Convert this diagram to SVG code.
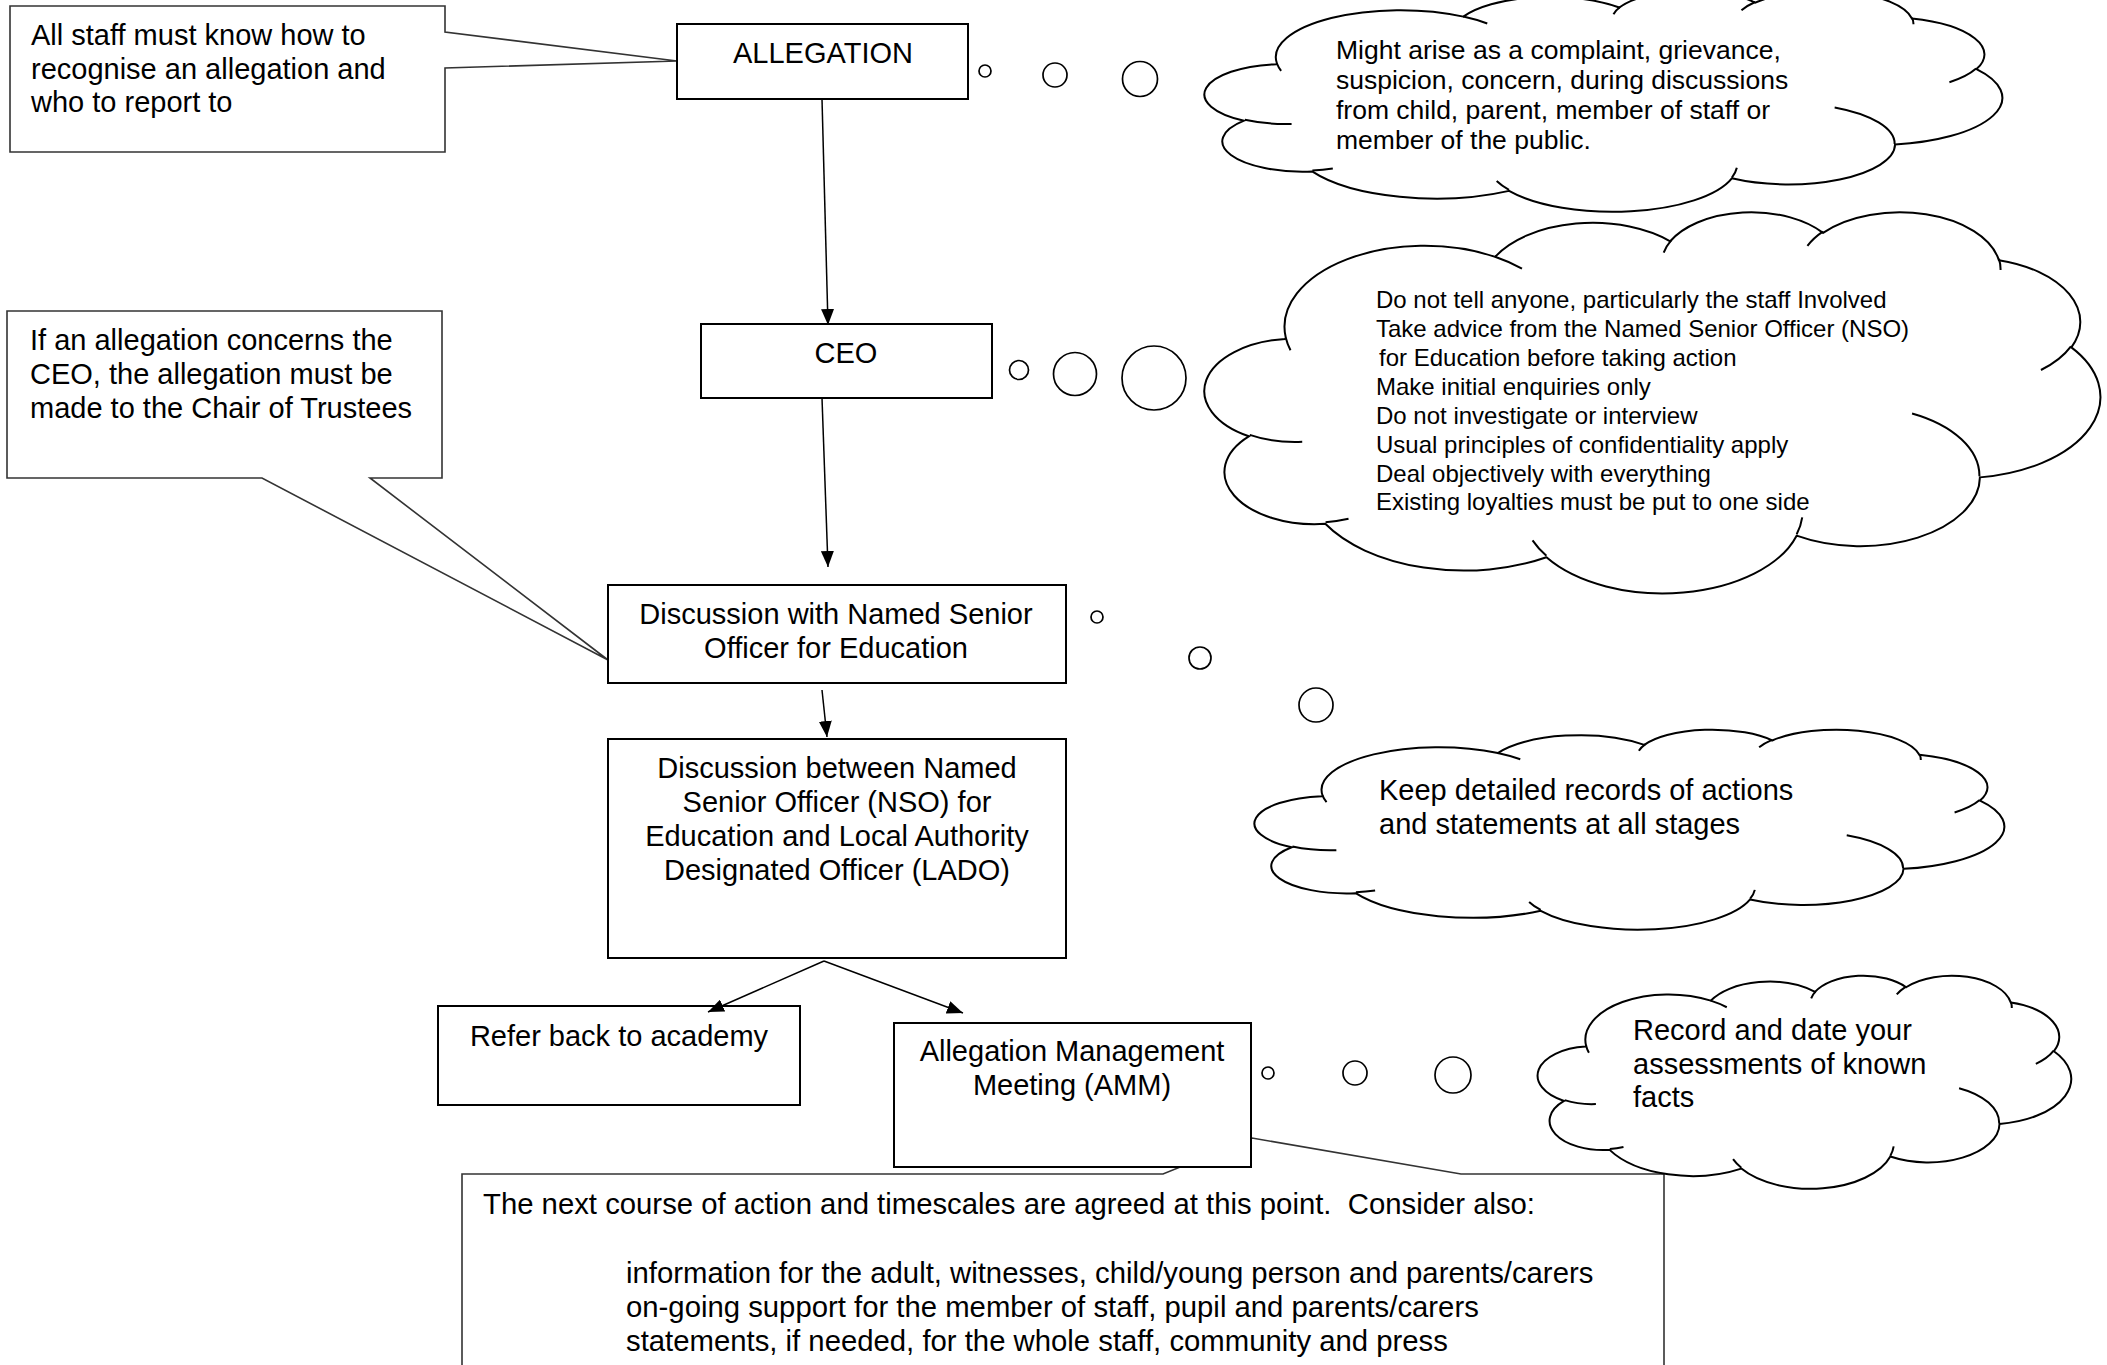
<svg xmlns="http://www.w3.org/2000/svg" xmlns:xlink="http://www.w3.org/1999/xlink" width="2107" height="1365" viewBox="0 0 2107 1365">
<defs>
<style>
.box{fill:#fff;stroke:#000;stroke-width:2}
.callout{fill:#fff;stroke:#333;stroke-width:1.6;stroke-linejoin:miter}
.t{font-family:"Liberation Sans",Arial,sans-serif;font-size:29px;fill:#000}
.c{text-anchor:middle}
.s26{font-size:26.5px}
.s24{font-size:24px}
.s293{font-size:29.3px}
.cl{fill:#fff;stroke:#000;stroke-width:2;vector-effect:non-scaling-stroke}
.cli{fill:none;stroke:#000;stroke-width:2;vector-effect:non-scaling-stroke}
.bub{fill:#fff;stroke:#000;stroke-width:1.7}
.conn{fill:none;stroke:#000;stroke-width:1.5}
</style>
<marker id="arr" markerWidth="16" markerHeight="13" refX="16" refY="6.5" orient="auto" markerUnits="userSpaceOnUse"><path d="M0,0 L16,6.5 L0,13 z" fill="#000"/></marker>
<g id="cloudShape">
<path class="cl" d="M3900,14370 A6753,9190 0 0 1 14005,5202 A5333,7267 0 0 1 22456,3432 A4365,5945 0 0 1 29833,2481 A4857,6595 0 0 1 38318,5576 A5333,7273 0 0 1 41818,15460 A6775,9220 0 0 1 37404,30203 A5785,7867 0 0 1 28556,36813 A6752,9215 0 0 1 16481,39264 A7720,10543 0 0 1 5806,35470 A4360,5918 0 0 1 2115,25548 A4345,5945 0 0 1 3865,14505 Z"/>
<path class="cli" d="M4693,26177 A4345,5945 0 0 1 2160,25380 M6928,34899 A4360,5918 0 0 1 5820,35280 M16478,39090 A6752,9215 0 0 1 15810,37350 M28827,34751 A6752,9215 0 0 1 28560,36660 M34129,22954 A5785,7867 0 0 1 37380,30090 M41798,15354 A5333,7273 0 0 1 40350,18030 M38324,5426 A4857,6595 0 0 1 38400,6690 M29078,3952 A4857,6595 0 0 1 29820,2340 M22141,4720 A4365,5945 0 0 1 22500,3330 M14000,5192 A6753,9190 0 0 1 15300,6541 M4127,15789 A6753,9190 0 0 1 3900,14370"/>
</g>
</defs>
<rect width="2107" height="1365" fill="#fff"/>

<g id="note-staff">
<path class="callout" d="M10,6 H445 V32 L677,61 L445,68 V152 H10 Z"/>
<text class="t" x="31" y="45">All staff must know how to</text>
<text class="t" x="31" y="79">recognise an allegation and</text>
<text class="t" x="31" y="112">who to report to</text>
</g>

<g id="note-ceo">
<path class="callout" d="M7,311 H442 V478 H370 L608,660 L262,478 H7 Z"/>
<text class="t" x="30" y="350">If an allegation concerns the</text>
<text class="t" x="30" y="384">CEO, the allegation must be</text>
<text class="t" x="30" y="418">made to the Chair of Trustees</text>
</g>

<g id="note-amm">
<path class="callout" d="M462,1174 H1163 L1252,1138 L1461,1174 H1664 V1380 H462 Z"/>
<text class="t s293" x="483" y="1214">The next course of action and timescales are agreed at this point.&#160; Consider also:</text>
<text class="t s293" x="626" y="1283">information for the adult, witnesses, child/young person and parents/carers</text>
<text class="t s293" x="626" y="1317">on-going support for the member of staff, pupil and parents/carers</text>
<text class="t s293" x="626" y="1351">statements, if needed, for the whole staff, community and press</text>
</g>

<g id="cloud-arise">
<use xlink:href="#cloudShape" href="#cloudShape" transform="translate(1205,-10) scale(0.018449,0.0051157)"/>
<circle class="bub" cx="985" cy="71" r="6"/>
<circle class="bub" cx="1055" cy="75" r="12"/>
<circle class="bub" cx="1140" cy="79" r="17.5"/>
<text class="t s26" x="1336" y="59">Might arise as a complaint, grievance,</text>
<text class="t s26" x="1336" y="89">suspicion, concern, during discussions</text>
<text class="t s26" x="1336" y="119">from child, parent, member of staff or</text>
<text class="t s26" x="1336" y="149">member of the public.</text>
</g>

<g id="cloud-advice">
<use xlink:href="#cloudShape" href="#cloudShape" transform="translate(1205,211) scale(0.0207176,0.0088194)"/>
<circle class="bub" cx="1019" cy="370" r="9.5"/>
<circle class="bub" cx="1075" cy="374" r="21.5"/>
<circle class="bub" cx="1154" cy="378" r="32"/>
<text class="t s24" x="1376" y="308">Do not tell anyone, particularly the staff Involved</text>
<text class="t s24" x="1376" y="337">Take advice from the Named Senior Officer (NSO)</text>
<text class="t s24" x="1379" y="366">for Education before taking action</text>
<text class="t s24" x="1376" y="395">Make initial enquiries only</text>
<text class="t s24" x="1376" y="424">Do not investigate or interview</text>
<text class="t s24" x="1376" y="453">Usual principles of confidentiality apply</text>
<text class="t s24" x="1376" y="482">Deal objectively with everything</text>
<text class="t s24" x="1376" y="510">Existing loyalties must be put to one side</text>
</g>

<g id="cloud-records">
<use xlink:href="#cloudShape" href="#cloudShape" transform="translate(1255,729) scale(0.017338,0.0046296)"/>
<circle class="bub" cx="1097" cy="617" r="6"/>
<circle class="bub" cx="1200" cy="658" r="11"/>
<circle class="bub" cx="1316" cy="705" r="17"/>
<text class="t" x="1379" y="800">Keep detailed records of actions</text>
<text class="t" x="1379" y="834">and statements at all stages</text>
</g>

<g id="cloud-record-date">
<use xlink:href="#cloudShape" href="#cloudShape" transform="translate(1538,975) scale(0.012338,0.0049306)"/>
<circle class="bub" cx="1268" cy="1073" r="6"/>
<circle class="bub" cx="1355" cy="1073" r="12"/>
<circle class="bub" cx="1453" cy="1075" r="18"/>
<text class="t" x="1633" y="1040">Record and date your</text>
<text class="t" x="1633" y="1074">assessments of known</text>
<text class="t" x="1633" y="1107">facts</text>
</g>

<g id="node-allegation">
<rect class="box" x="677" y="24" width="291" height="75"/>
<text class="t c" x="823" y="63">ALLEGATION</text>
</g>

<g id="node-ceo">
<rect class="box" x="701" y="324" width="291" height="74"/>
<text class="t c" x="846" y="363">CEO</text>
</g>

<g id="node-nso">
<rect class="box" x="608" y="585" width="458" height="98"/>
<text class="t c" x="836" y="624">Discussion with Named Senior</text>
<text class="t c" x="836" y="658">Officer for Education</text>
</g>

<g id="node-lado">
<rect class="box" x="608" y="739" width="458" height="219"/>
<text class="t c" x="837" y="778">Discussion between Named</text>
<text class="t c" x="837" y="812">Senior Officer (NSO) for</text>
<text class="t c" x="837" y="846">Education and Local Authority</text>
<text class="t c" x="837" y="880">Designated Officer (LADO)</text>
</g>

<g id="node-refer">
<rect class="box" x="438" y="1006" width="362" height="99"/>
<text class="t c" x="619" y="1046">Refer back to academy</text>
</g>

<g id="node-amm">
<rect class="box" x="894" y="1023" width="357" height="144"/>
<text class="t c" x="1072" y="1061">Allegation Management</text>
<text class="t c" x="1072" y="1095">Meeting (AMM)</text>
</g>

<g id="connectors">
<line class="conn" x1="822" y1="99" x2="828" y2="325" marker-end="url(#arr)"/>
<line class="conn" x1="822" y1="398" x2="828" y2="567" marker-end="url(#arr)"/>
<line class="conn" x1="822" y1="690" x2="827" y2="737" marker-end="url(#arr)"/>
<line class="conn" x1="824" y1="961" x2="708" y2="1012" marker-end="url(#arr)"/>
<line class="conn" x1="824" y1="961" x2="963" y2="1013" marker-end="url(#arr)"/>
</g>
</svg>
